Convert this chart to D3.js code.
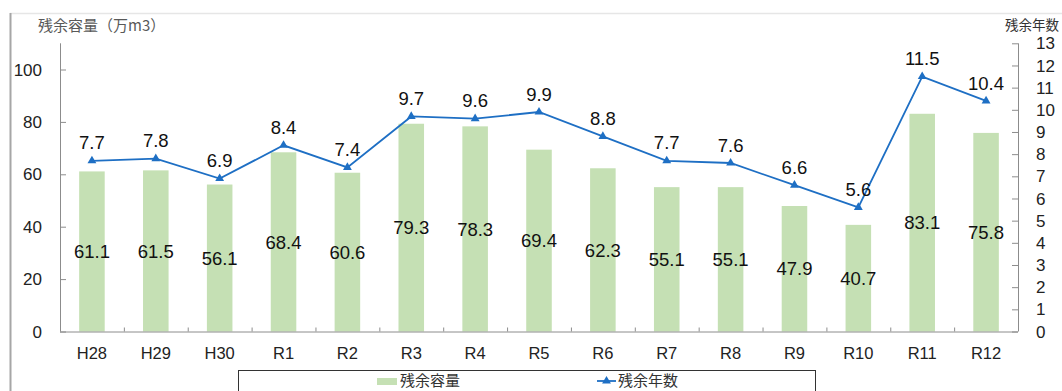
<!DOCTYPE html>
<html>
<head>
<meta charset="utf-8">
<script src="https://cdn.jsdelivr.net/npm/d3@7"></script>
<style>
  html, body { margin: 0; padding: 0; background: #fff; }
  svg { display: block; }
  text { font-family: "Liberation Sans", Arial, sans-serif; }
  .cjk { font-family: "Noto Sans CJK JP", "Noto Sans CJK SC", sans-serif; }
</style>
</head>
<body>
<svg id="chart" width="1062" height="391"></svg>
<script>
// Fiscal years
const categories = ["H28","H29","H30","R1","R2","R3","R4","R5","R6","R7","R8","R9","R10","R11","R12"];
// Remaining capacity (10,000 m3)
const capacity = [61.1,61.5,56.1,68.4,60.6,79.3,78.3,69.4,62.3,55.1,55.1,47.9,40.7,83.1,75.8];
// Remaining years
const years = [7.7,7.8,6.9,8.4,7.4,9.7,9.6,9.9,8.8,7.7,7.6,6.6,5.6,11.5,10.4];
const leftTicks = [0,20,40,60,80,100];
const rightTicks = [0,1,2,3,4,5,6,7,8,9,10,11,12,13];

const svg = d3.select("#chart");
const plot = { left: 60, right: 1018, top: 43.3, bottom: 331.5 };

const x = d3.scaleBand().domain(categories).range([plot.left, plot.right]);
const yL = d3.scaleLinear().domain([0, 110]).range([plot.bottom, plot.top]);
const yR = d3.scaleLinear().domain([0, 13]).range([plot.bottom, plot.top]);

const barColor = "#c5e0b4";
const lineColor = "#1e6fc4";
const axisColor = "#8c8c8c";

// outer frame
svg.append("line").attr("x1", 10).attr("x2", 1062).attr("y1", 13.5).attr("y2", 13.5)
  .attr("stroke", "#e6e6e6").attr("stroke-width", 1.5);
svg.append("line").attr("x1", 10.5).attr("x2", 10.5).attr("y1", 13).attr("y2", 391)
  .attr("stroke", "#a6a6a6").attr("stroke-width", 2);

// bars
svg.append("g").selectAll("rect").data(categories).join("rect")
  .attr("x", d => x(d) + x.bandwidth() * 0.3)
  .attr("width", x.bandwidth() * 0.4)
  .attr("y", (d, i) => yL(capacity[i]))
  .attr("height", (d, i) => yL(0) - yL(capacity[i]))
  .attr("fill", barColor);

// left axis
const gL = svg.append("g").attr("transform", `translate(${plot.left},0)`)
  .call(d3.axisRight(yL).tickValues(leftTicks).tickSize(6).tickFormat(""));
gL.select(".domain").attr("stroke", axisColor).attr("d", `M0.5,${plot.top}V${plot.bottom}`);
gL.selectAll(".tick line").attr("stroke", axisColor);
svg.append("g").selectAll("text").data(leftTicks).join("text")
  .attr("x", 42).attr("y", d => yL(d)).attr("dy", "0.36em")
  .attr("text-anchor", "end").attr("font-size", 17).attr("fill", "#222")
  .text(d => d);

// right axis
const gR = svg.append("g").attr("transform", `translate(${plot.right},0)`)
  .call(d3.axisLeft(yR).tickValues(rightTicks).tickSize(6).tickFormat(""));
gR.select(".domain").attr("stroke", axisColor).attr("d", `M0.5,${plot.top}V${plot.bottom}`);
gR.selectAll(".tick line").attr("stroke", axisColor);
svg.append("g").selectAll("text").data(rightTicks).join("text")
  .attr("x", 1036).attr("y", d => yR(d)).attr("dy", "0.36em")
  .attr("text-anchor", "start").attr("font-size", 17).attr("fill", "#222")
  .text(d => d);

// bottom axis
const edges = categories.map(c => x(c)).concat([plot.right]);
svg.append("line").attr("x1", plot.left).attr("x2", plot.right)
  .attr("y1", plot.bottom + 0.5).attr("y2", plot.bottom + 0.5).attr("stroke", axisColor);
svg.append("g").selectAll("line").data(edges.slice(1, -1)).join("line")
  .attr("x1", d => d + 0.5).attr("x2", d => d + 0.5)
  .attr("y1", plot.bottom - 4).attr("y2", plot.bottom).attr("stroke", axisColor);
svg.append("g").selectAll("text").data(categories).join("text")
  .attr("x", d => x(d) + x.bandwidth() / 2).attr("y", 353).attr("dy", "0.36em")
  .attr("text-anchor", "middle").attr("font-size", 16.5).attr("fill", "#222")
  .text(d => d);

// bar value labels, centred in each bar
svg.append("g").selectAll("text").data(categories).join("text")
  .attr("x", d => x(d) + x.bandwidth() / 2)
  .attr("y", (d, i) => (yL(0) + yL(capacity[i])) / 2).attr("dy", "0.36em")
  .attr("text-anchor", "middle").attr("font-size", 18.5).attr("fill", "#111")
  .text((d, i) => capacity[i].toFixed(1));

// remaining-years line
const line = d3.line().x(d => x(d.c) + x.bandwidth() / 2).y(d => yR(d.v));
const pts = categories.map((c, i) => ({ c, v: years[i] }));
svg.append("path").datum(pts).attr("d", line)
  .attr("fill", "none").attr("stroke", lineColor).attr("stroke-width", 1.8);
const tri = d3.symbol().type(d3.symbolTriangle).size(34);
svg.append("g").selectAll("path").data(pts).join("path")
  .attr("transform", d => `translate(${x(d.c) + x.bandwidth() / 2},${yR(d.v)})`)
  .attr("d", tri).attr("fill", lineColor);
svg.append("g").selectAll("text").data(pts).join("text")
  .attr("x", d => x(d.c) + x.bandwidth() / 2)
  .attr("y", d => yR(d.v) - 18).attr("dy", "0.36em")
  .attr("text-anchor", "middle").attr("font-size", 18.5).attr("fill", "#111")
  .text(d => d.v.toFixed(1));

// axis titles
svg.append("text").attr("class", "cjk").attr("x", 38).attr("y", 26).attr("dy", "0.36em")
  .attr("font-size", 15).attr("fill", "#595959").text("残余容量（万m3）");
svg.append("text").attr("class", "cjk").attr("x", 1059).attr("y", 25).attr("dy", "0.36em")
  .attr("text-anchor", "end").attr("font-size", 13.5).attr("fill", "#333").text("残余年数");

// legend
const lg = svg.append("g");
lg.append("rect").attr("x", 238.5).attr("y", 370.5).attr("width", 577).attr("height", 30)
  .attr("fill", "#fff").attr("stroke", "#333").attr("stroke-width", 1);
lg.append("rect").attr("x", 377).attr("y", 378).attr("width", 20).attr("height", 7).attr("fill", barColor);
lg.append("text").attr("class", "cjk").attr("x", 400).attr("y", 381).attr("dy", "0.36em")
  .attr("font-size", 15).attr("fill", "#333").text("残余容量");
lg.append("line").attr("x1", 597).attr("x2", 616).attr("y1", 381).attr("y2", 381)
  .attr("stroke", lineColor).attr("stroke-width", 1.8);
lg.append("path").attr("transform", "translate(606.5,381)").attr("d", tri).attr("fill", lineColor);
lg.append("text").attr("class", "cjk").attr("x", 618).attr("y", 381).attr("dy", "0.36em")
  .attr("font-size", 15).attr("fill", "#333").text("残余年数");
</script>
</body>
</html>
